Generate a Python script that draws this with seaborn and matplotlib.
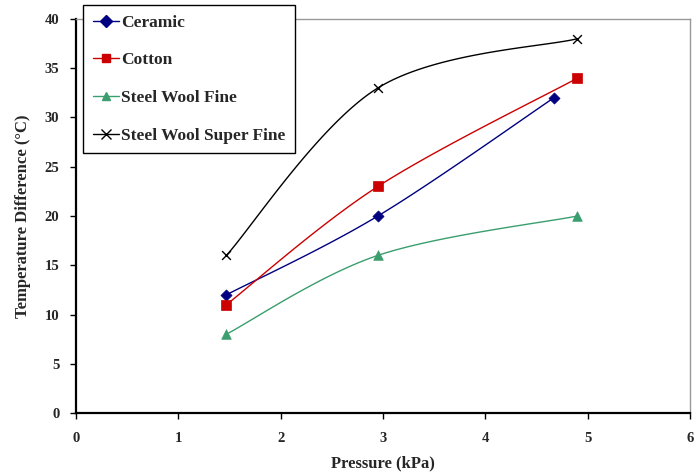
import numpy as np
import pandas as pd
import matplotlib
matplotlib.use("Agg")
import matplotlib.pyplot as plt
from matplotlib.lines import Line2D
import seaborn as sns

# Measured data
series_names = ["Ceramic", "Cotton", "Steel Wool Fine", "Steel Wool Super Fine"]
ceramic_p = [1.47, 2.95, 4.67]
ceramic_t = [12, 20, 32]
cotton_p = [1.47, 2.95, 4.90]
cotton_t = [11, 23, 34]
fine_p = [1.47, 2.95, 4.90]
fine_t = [8, 16, 20]
superfine_p = [1.47, 2.95, 4.90]
superfine_t = [16, 33, 38]

x_ticks = [0, 1, 2, 3, 4, 5, 6]
y_ticks = [0, 5, 10, 15, 20, 25, 30, 35, 40]

colors = ["#000080", "#CC0000", "#3A9E6E", "#000000"]
markers = ["D", "s", "^", "x"]
msizes = [32, 48, 48, 40]


def smooth_curve(xs, ys, n=60):
    """Cubic Bezier smoothing through the points (spreadsheet-style smooth line)."""
    pts = np.column_stack([xs, ys]).astype(float)
    out = []
    for i in range(len(pts) - 1):
        p0 = pts[i - 1] if i > 0 else pts[i]
        p1 = pts[i]
        p2 = pts[i + 1]
        p3 = pts[i + 2] if i + 2 < len(pts) else pts[i + 1]
        c1 = p1 + (p2 - p0) / 6.0
        c2 = p2 - (p3 - p1) / 6.0
        t = np.linspace(0, 1, n)[:, None]
        seg = ((1 - t) ** 3) * p1 + 3 * ((1 - t) ** 2) * t * c1 + 3 * (1 - t) * t ** 2 * c2 + t ** 3 * p2
        out.append(seg if i == 0 else seg[1:])
    seg = np.vstack(out)
    return seg[:, 0], seg[:, 1]


sns.set_theme(style="white")
plt.rcParams["font.family"] = ["Liberation Serif", "DejaVu Serif"]
plt.rcParams["font.weight"] = "bold"

fig = plt.figure(figsize=(6.94, 4.75), dpi=100)
ax = fig.add_axes([76 / 694, 1 - 413 / 475, (690 - 76) / 694, (413 - 19) / 475])

data = [(ceramic_p, ceramic_t), (cotton_p, cotton_t), (fine_p, fine_t), (superfine_p, superfine_t)]
frames = []
for name, (px, ty) in zip(series_names, data):
    frames.append(pd.DataFrame({"Pressure": px, "Temp": ty, "Series": name}))
df = pd.concat(frames, ignore_index=True)

handles = []
for name, color, mk, ms in zip(series_names, colors, markers, msizes):
    sub = df[df["Series"] == name]
    cx, cy = smooth_curve(sub["Pressure"].values, sub["Temp"].values)
    curve = pd.DataFrame({"x": cx, "y": cy})
    sns.lineplot(data=curve, x="x", y="y", ax=ax, color=color, linewidth=1.0,
                 sort=False, estimator=None, legend=False)
    if mk == "x":
        sns.scatterplot(data=sub, x="Pressure", y="Temp", ax=ax, color=color, marker=mk,
                        s=ms, linewidth=1.0, legend=False, zorder=3)
    else:
        sns.scatterplot(data=sub, x="Pressure", y="Temp", ax=ax, color=color, marker=mk,
                        s=ms, edgecolor=color, linewidth=0.5, legend=False, zorder=3)
    handles.append(Line2D([0], [0], color=color, lw=1.0, marker=mk,
                          markersize=6 if mk != "x" else 6.5, markerfacecolor=color,
                          markeredgecolor=color, markeredgewidth=1.0, label=name))

ax.set_xlim(0, 6)
ax.set_ylim(0, 40)
ax.set_xticks(x_ticks)
ax.set_yticks(y_ticks)
ax.set_xticklabels([str(v) for v in x_ticks], fontsize=10.5, fontweight="bold")
ax.set_yticklabels([str(v) for v in y_ticks], fontsize=10.5, fontweight="bold")
ax.tick_params(axis="both", direction="out", length=4, width=1.0, color="black",
               left=True, bottom=True, pad=8)
ax.tick_params(axis="x", pad=10)

ax.set_xlabel("Pressure (kPa)", fontsize=12, fontweight="bold", labelpad=7)
ax.set_ylabel("Temperature Difference (°C)", fontsize=12, fontweight="bold", labelpad=10)

for side in ["left", "bottom"]:
    ax.spines[side].set_color("black")
    ax.spines[side].set_linewidth(1.6)
for side in ["top", "right"]:
    ax.spines[side].set_color("#999999")
    ax.spines[side].set_linewidth(1.0)
    ax.spines[side].set_visible(True)

leg = fig.legend(handles=handles, loc="upper left",
                 bbox_to_anchor=(83 / 694, 1 - 5 / 475),
                 frameon=True, fancybox=False, edgecolor="black", framealpha=1,
                 prop={"family": ["Liberation Serif"], "weight": "bold", "size": 12.5},
                 handlelength=1.5, handletextpad=0.12, labelspacing=1.24,
                 borderpad=0.55, borderaxespad=0)
leg.get_frame().set_linewidth(1.0)

fig.savefig("out.png", dpi=100)
